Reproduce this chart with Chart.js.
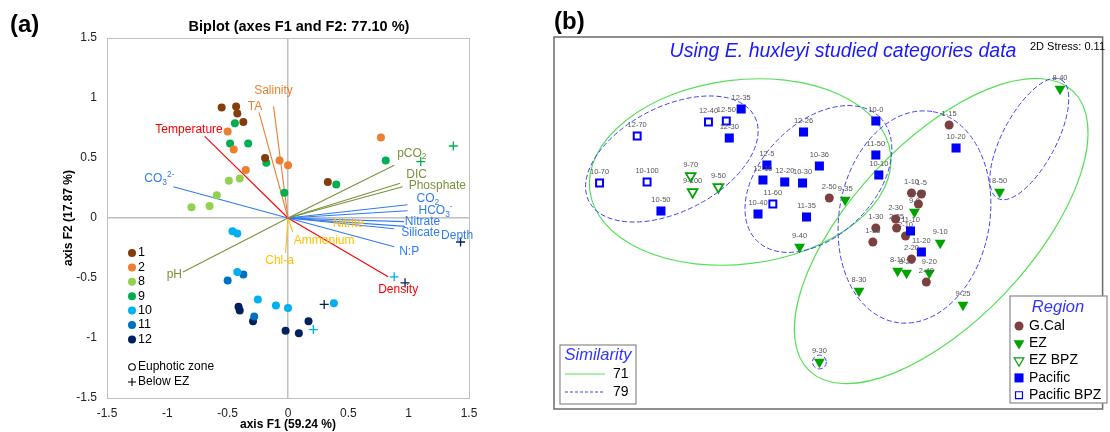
<!DOCTYPE html>
<html>
<head>
<meta charset="utf-8">
<script src="https://cdn.jsdelivr.net/npm/chart.js@4.4.1/dist/chart.umd.min.js"></script>
<style>
body { margin: 0; background: #fff; }
#wrap { position: relative; width: 1110px; height: 432px; overflow: hidden; }
canvas { position: absolute; top: 0; }
#ca { left: 0; }
#cb { left: 540px; }
</style>
</head>
<body>
<div id="wrap">
  <canvas id="ca" width="540" height="432"></canvas>
  <canvas id="cb" width="570" height="432"></canvas>
</div>
<script>
const FONT = "'Liberation Sans', Arial, sans-serif";
Chart.defaults.font.family = FONT;

// ---------- panel (a): PCA biplot data ----------
const groupNames = ['1', '2', '8', '9', '10', '11', '12'];
// euphotic zone scores [F1, F2] per group
const ez1 = [[-0.55, 0.92], [-0.43, 0.93], [-0.42, 0.87], [-0.37, 0.80], [-0.19, 0.50], [0.33, 0.30]];
const ez2 = [[-0.50, 0.72], [-0.45, 0.57], [-0.35, 0.40], [-0.07, 0.48], [0.0, 0.44], [0.77, 0.67]];
const ez8 = [[-0.80, 0.09], [-0.65, 0.10], [-0.59, 0.19], [-0.49, 0.31], [-0.40, 0.33]];
const ez9 = [[-0.44, 0.79], [-0.48, 0.62], [-0.33, 0.62], [-0.18, 0.46], [-0.03, 0.21], [0.40, 0.28], [0.81, 0.48]];
const ez10 = [[-0.46, -0.11], [-0.42, -0.13], [-0.42, -0.45], [-0.25, -0.68], [-0.10, -0.73], [0.0, -0.75], [0.38, -0.71]];
const ez11 = [[-0.50, -0.52], [-0.37, -0.47], [-0.28, -0.82]];
const ez12 = [[-0.41, -0.74], [-0.40, -0.77], [-0.29, -0.86], [-0.02, -0.94], [0.09, -0.96], [0.17, -0.86]];
// below euphotic zone scores
const bez9 = [[1.10, 0.47], [1.37, 0.60]];
const bez10 = [[0.88, -0.49], [0.21, -0.93]];
const bez12 = [[0.30, -0.72], [0.97, -0.54], [1.43, -0.20]];

// variable loadings
const varNames = ['Salinity', 'TA', 'Temperature', 'CO_{3}^{2-}', 'pCO_{2}', 'DIC', 'Phosphate', 'CO_{2}', 'HCO_{3}^{-}',
  'Nitrate', 'Silicate', 'Depth', 'N:P', 'Density', 'Nitrite', 'Ammonium', 'Chl-a', 'pH'];
const varF1 = [-0.12, -0.24, -0.69, -0.95, 0.88, 0.93, 0.95, 0.99, 0.99, 0.96, 0.88, 0.97, 0.88, 0.83, 0.37, 0.04, -0.02, -0.87];
const varF2 = [0.93, 0.88, 0.68, 0.26, 0.44, 0.29, 0.26, 0.11, 0.06, -0.03, -0.09, -0.07, -0.24, -0.49, -0.03, -0.12, -0.29, -0.45];
const varKind = ['ion', 'ion', 'phys', 'carb', 'dic', 'dic', 'dic', 'carb', 'carb', 'carb', 'carb', 'carb', 'carb', 'phys', 'bio', 'bio', 'bio', 'dic'];

// ---------- styles for panel (a) ----------
const groupColors = ['#843c0c', '#ed7d31', '#92d050', '#00b050', '#00b0f0', '#0070c0', '#002060'];
const kindColors = { ion: '#ed7d31', phys: '#ff0000', carb: '#2f7bf5', dic: '#77933c', bio: '#ffc000' };
// label placement: [dx, dy, align] in pixels from the vector tip
const vecLabelPos = [[0, -16, 'center'], [-4, -6, 'center'], [18, -7, 'right'], [-29, -8, 'left'], [3, -12, 'left'],
  [6, -9, 'left'], [6, -1, 'left'], [9, -6, 'left'], [11, 0, 'left'], [1, 0, 'left'], [7, 4, 'left'], [36, 9, 'left'],
  [5, 5, 'left'], [10, 13, 'center'], [0, 2, 'left'], [1, 8, 'left'], [-6, 8, 'center'], [-1, 3, 'right']];

// draws text with _{sub} and ^{sup} parts
function drawRich(ctx, str, x, y, align, size, color) {
  const parts = [];
  const re = /([_^])\{([^}]*)\}/g;
  let last = 0, m;
  while ((m = re.exec(str))) {
    if (m.index > last) parts.push({ t: str.slice(last, m.index), k: '' });
    parts.push({ t: m[2], k: m[1] });
    last = re.lastIndex;
  }
  if (last < str.length) parts.push({ t: str.slice(last), k: '' });
  const small = size * 0.7;
  let w = 0;
  parts.forEach(p => {
    ctx.font = (p.k ? small : size) + 'px ' + FONT;
    p.w = ctx.measureText(p.t).width;
    w += p.w;
  });
  let cx = align === 'center' ? x - w / 2 : align === 'right' ? x - w : x;
  ctx.textAlign = 'left';
  ctx.textBaseline = 'middle';
  ctx.fillStyle = color;
  parts.forEach(p => {
    ctx.font = (p.k ? small : size) + 'px ' + FONT;
    const dy = p.k === '_' ? size * 0.32 : p.k === '^' ? -size * 0.35 : 0;
    ctx.fillText(p.t, cx, y + dy);
    cx += p.w;
  });
}

const toXY = arr => arr.map(p => ({ x: p[0], y: p[1] }));
const ezSets = [ez1, ez2, ez8, ez9, ez10, ez11, ez12];
const bezSets = { '9': bez9, '10': bez10, '12': bez12 };

const dsA = [];
groupNames.forEach((g, i) => {
  dsA.push({ data: toXY(ezSets[i]), backgroundColor: groupColors[i], borderWidth: 0, pointRadius: 4 });
  if (bezSets[g]) {
    dsA.push({ data: toXY(bezSets[g]), pointStyle: 'cross', borderColor: groupColors[i], borderWidth: 1.3, pointRadius: 4.5 });
  }
});
varNames.forEach((n, i) => {
  dsA.push({ data: [{ x: 0, y: 0 }, { x: varF1[i], y: varF2[i] }], showLine: true, pointRadius: 0,
    borderColor: kindColors[varKind[i]], borderWidth: 1.1 });
});

const zeroGrid = c => (Math.abs(c.tick.value) < 1e-9 ? '#c0c0c0' : 'rgba(0,0,0,0)');
const plainTick = v => String(Math.round(v * 10) / 10);

const biplotDecor = {
  id: 'biplotDecor',
  afterDraw(chart) {
    const { ctx, chartArea: a, scales } = chart;
    ctx.save();
    ctx.strokeStyle = '#c0c0c0';
    ctx.lineWidth = 1;
    ctx.strokeRect(a.left + 0.5, a.top + 0.5, a.right - a.left, a.bottom - a.top);
    // vector labels
    varNames.forEach((n, i) => {
      const px = scales.x.getPixelForValue(varF1[i]);
      const py = scales.y.getPixelForValue(varF2[i]);
      const p = vecLabelPos[i];
      drawRich(ctx, n, px + p[0], py + p[1], p[2], 12, kindColors[varKind[i]]);
    });
    // title and panel letter
    ctx.fillStyle = '#000';
    ctx.textAlign = 'center';
    ctx.textBaseline = 'middle';
    ctx.font = 'bold 14.5px ' + FONT;
    ctx.fillText('Biplot (axes F1 and F2: 77.10 %)', 299, 27);
    ctx.textAlign = 'left';
    ctx.font = 'bold 24px ' + FONT;
    ctx.fillText('(a)', 10, 25);
    // legend
    ctx.font = '12.5px ' + FONT;
    groupNames.forEach((g, i) => {
      const y = 253 + i * 14.4;
      ctx.fillStyle = groupColors[i];
      ctx.beginPath();
      ctx.arc(132, y, 4, 0, Math.PI * 2);
      ctx.fill();
      ctx.fillStyle = '#000';
      ctx.fillText(g, 138, y);
    });
    ctx.font = '12px ' + FONT;
    ctx.strokeStyle = '#000';
    ctx.lineWidth = 1.1;
    ctx.beginPath();
    ctx.arc(132, 367, 3.3, 0, Math.PI * 2);
    ctx.stroke();
    ctx.beginPath();
    ctx.moveTo(128, 382); ctx.lineTo(136, 382);
    ctx.moveTo(132, 378); ctx.lineTo(132, 386);
    ctx.stroke();
    ctx.fillText('Euphotic zone', 138, 367);
    ctx.fillText('Below EZ', 138, 382);
    ctx.restore();
  }
};

new Chart(document.getElementById('ca'), {
  type: 'scatter',
  data: { datasets: dsA },
  options: {
    responsive: false,
    animation: false,
    layout: { padding: { left: 61, right: 71, top: 38, bottom: 0 } },
    plugins: { legend: { display: false }, tooltip: { enabled: false } },
    scales: {
      x: {
        min: -1.5, max: 1.5,
        ticks: { stepSize: 0.5, padding: 8, color: '#222', font: { size: 12 }, callback: plainTick },
        grid: { color: zeroGrid, lineWidth: 1.5, drawTicks: false },
        border: { display: false },
        title: { display: true, text: 'axis F1 (59.24 %)', color: '#000', font: { size: 12, weight: 'bold' }, padding: { top: 0, bottom: 0 } },
        afterFit: s => { s.height = 34; }
      },
      y: {
        min: -1.5, max: 1.5,
        ticks: { stepSize: 0.5, padding: 10, color: '#222', font: { size: 12 }, callback: plainTick },
        grid: { color: zeroGrid, lineWidth: 1.5, drawTicks: false },
        border: { display: false },
        title: { display: true, text: 'axis F2 (17.87 %)', color: '#000', font: { size: 12, weight: 'bold' }, padding: { top: 0, bottom: 0 } },
        afterFit: s => { s.width = 46; }
      }
    }
  },
  plugins: [biplotDecor]
});

// ---------- panel (b): NMDS data ----------
const gcalNames = ['2-50', '1-15', '1-10', '1-5', '1-20', '2-30', '2-35', '2-10', '1-30', '1-35', '2-20', '2-40'];
const gcalX = [0.02, 1.23, 0.85, 0.95, 0.92, 0.69, 0.70, 0.79, 0.49, 0.46, 0.85, 1.00];
const gcalY = [0.27, 1.00, 0.32, 0.31, 0.21, 0.06, -0.03, -0.11, -0.03, -0.17, -0.34, -0.57];

const ezNames = ['8-40', '8-50', '9-35', '9-0', '9-10', '8-10', '8-20', '9-20', '8-30', '9-25', '9-40', '9-30'];
const ezX = [2.35, 1.74, 0.18, 0.88, 1.14, 0.71, 0.80, 1.03, 0.32, 1.37, -0.28, -0.08];
const ezY = [1.36, 0.33, 0.25, 0.13, -0.18, -0.46, -0.48, -0.48, -0.66, -0.80, -0.22, -1.37];

const ezbNames = ['9-70', '9-100', '9-50'];
const ezbX = [-1.38, -1.36, -1.10];
const ezbY = [0.49, 0.33, 0.38];

const pacNames = ['12-35', '12-30', '10-50', '12-26', '12-5', '12-10', '12-20', '10-30', '10-36', '10-40', '11-35',
  '10-0', '10-20', '11-50', '10-10', '11-10', '11-20'];
const pacX = [-0.87, -0.99, -1.68, -0.24, -0.61, -0.65, -0.43, -0.25, -0.08, -0.70, -0.21, 0.49, 1.30, 0.49, 0.52, 0.84, 0.95];
const pacY = [1.16, 0.87, 0.14, 0.93, 0.60, 0.45, 0.43, 0.42, 0.59, 0.11, 0.08, 1.04, 0.77, 0.70, 0.50, -0.06, -0.27];

const pacbNames = ['12-40', '12-50', '12-70', '10-70', '10-100', '11-60'];
const pacbX = [-1.20, -1.02, -1.92, -2.30, -1.82, -0.55];
const pacbY = [1.03, 1.04, 0.89, 0.42, 0.43, 0.21];

// similarity clusters: [centre x, centre y, semi-axis a, semi-axis b, angle deg]
const sim71 = [[-0.88, 0.53, 1.53, 0.93, 7], [1.15, -0.06, 1.94, 0.90, 46.7]];
const sim79 = [[-1.57, 0.66, 0.94, 0.53, 27], [-0.09, 0.46, 0.88, 0.57, 45], [0.88, 0.08, 1.08, 0.76, 80],
  [2.04, 0.86, 0.68, 0.27, 62], [-0.08, -1.37, 0.07, 0.07, 0]];

const regionNames = ['G.Cal', 'EZ', 'EZ BPZ', 'Pacific', 'Pacific BPZ'];

// ---------- styles for panel (b) ----------
const COL_GCAL = '#7d3f3f', COL_EZ = '#00a300', COL_PAC = '#0000ff';
const C71 = '#55e055', C79 = '#4040ff';
const regionStyle = [
  { pointStyle: 'circle', radius: 4.5, rotation: 0, borderWidth: 0, fill: COL_GCAL, stroke: COL_GCAL },
  { pointStyle: 'triangle', radius: 6.3, rotation: 180, borderWidth: 0, fill: COL_EZ, stroke: COL_EZ },
  { pointStyle: 'triangle', radius: 5.6, rotation: 180, borderWidth: 1.8, fill: '#fff', stroke: COL_EZ },
  { pointStyle: 'rect', radius: 6.4, rotation: 0, borderWidth: 0, fill: COL_PAC, stroke: COL_PAC },
  { pointStyle: 'rect', radius: 4.9, rotation: 0, borderWidth: 2, fill: '#fff', stroke: COL_PAC }
];

const zipXY = (xs, ys) => xs.map((x, i) => ({ x: x, y: ys[i] }));
const regionData = [[gcalNames, gcalX, gcalY], [ezNames, ezX, ezY], [ezbNames, ezbX, ezbY], [pacNames, pacX, pacY], [pacbNames, pacbX, pacbY]];

const dsB = regionData.map((r, i) => ({
  label: regionNames[i],
  names: r[0],
  data: zipXY(r[1], r[2]),
  pointStyle: regionStyle[i].pointStyle,
  rotation: regionStyle[i].rotation,
  pointRadius: regionStyle[i].radius,
  borderWidth: regionStyle[i].borderWidth,
  backgroundColor: regionStyle[i].fill,
  borderColor: regionStyle[i].stroke,
  clip: false
})).reverse();

function drawEllipse(ctx, xs, ys, e) {
  const k = Math.abs(xs.getPixelForValue(1) - xs.getPixelForValue(0));
  ctx.beginPath();
  ctx.ellipse(xs.getPixelForValue(e[0]), ys.getPixelForValue(e[1]), e[2] * k, e[3] * k, -e[4] * Math.PI / 180, 0, Math.PI * 2);
  ctx.stroke();
}

const nmdsDecor = {
  id: 'nmdsDecor',
  beforeDatasetsDraw(chart) {
    const { ctx, scales } = chart;
    ctx.save();
    ctx.lineWidth = 1.2;
    ctx.strokeStyle = C71;
    sim71.forEach(e => drawEllipse(ctx, scales.x, scales.y, e));
    ctx.strokeStyle = C79;
    ctx.lineWidth = 1;
    ctx.setLineDash([5, 2.5]);
    sim79.forEach(e => drawEllipse(ctx, scales.x, scales.y, e));
    ctx.restore();
  },
  afterDatasetsDraw(chart) {
    const { ctx, chartArea: a } = chart;
    ctx.save();
    // sample labels
    ctx.font = '7.5px ' + FONT;
    ctx.fillStyle = '#555';
    ctx.textAlign = 'center';
    ctx.textBaseline = 'middle';
    chart.data.datasets.forEach((ds, di) => {
      chart.getDatasetMeta(di).data.forEach((el, i) => {
        ctx.fillText(ds.names[i], el.x, el.y - 11.5);
      });
    });
    // frame
    ctx.strokeStyle = '#6b6b6b';
    ctx.lineWidth = 1.5;
    ctx.strokeRect(a.left, a.top, a.right - a.left, a.bottom - a.top);
    // titles
    ctx.fillStyle = '#1a1aff';
    ctx.font = 'italic 19.5px ' + FONT;
    ctx.fillText('Using E. huxleyi studied categories data', 303, 52);
    ctx.fillStyle = '#000';
    ctx.font = '11px ' + FONT;
    ctx.textAlign = 'right';
    ctx.fillText('2D Stress: 0.11', 565, 47);
    ctx.textAlign = 'left';
    ctx.font = 'bold 24px ' + FONT;
    ctx.fillText('(b)', 14, 22);

    // similarity legend
    ctx.fillStyle = '#fff';
    ctx.strokeStyle = '#8a8a8a';
    ctx.lineWidth = 1.2;
    ctx.fillRect(20, 345, 76, 59);
    ctx.strokeRect(20, 345, 76, 59);
    ctx.fillStyle = '#3333ff';
    ctx.textAlign = 'center';
    ctx.font = 'italic 16.5px ' + FONT;
    ctx.fillText('Similarity', 58, 355);
    ctx.strokeStyle = C71;
    ctx.lineWidth = 1.2;
    ctx.beginPath(); ctx.moveTo(25, 374); ctx.lineTo(65, 374); ctx.stroke();
    ctx.strokeStyle = C79;
    ctx.lineWidth = 1;
    ctx.setLineDash([3, 2]);
    ctx.beginPath(); ctx.moveTo(25, 392); ctx.lineTo(65, 392); ctx.stroke();
    ctx.setLineDash([]);
    ctx.fillStyle = '#000';
    ctx.textAlign = 'left';
    ctx.font = '14px ' + FONT;
    ctx.fillText('71', 73, 374);
    ctx.fillText('79', 73, 392);

    // region legend
    ctx.fillStyle = '#fff';
    ctx.strokeStyle = '#8a8a8a';
    ctx.lineWidth = 1.2;
    ctx.fillRect(470, 296, 97, 107);
    ctx.strokeRect(470, 296, 97, 107);
    ctx.fillStyle = '#3333ff';
    ctx.textAlign = 'center';
    ctx.font = 'italic 16.5px ' + FONT;
    ctx.fillText('Region', 518, 307);
    ctx.textAlign = 'left';
    ctx.font = '14px ' + FONT;
    regionNames.forEach((n, i) => {
      const y = 326 + i * 17.3;
      const st = regionStyle[i];
      ctx.fillStyle = st.fill;
      ctx.strokeStyle = st.stroke;
      Chart.helpers.drawPoint(ctx, { pointStyle: st.pointStyle, rotation: st.rotation, radius: st.radius, borderWidth: st.borderWidth }, 479, y);
      ctx.fillStyle = '#000';
      ctx.fillText(n, 489, y);
    });
    ctx.restore();
  }
};

new Chart(document.getElementById('cb'), {
  type: 'scatter',
  data: { datasets: dsB },
  options: {
    responsive: false,
    animation: false,
    layout: { padding: { left: 14, right: 2, top: 37, bottom: 23 } },
    plugins: { legend: { display: false }, tooltip: { enabled: false } },
    scales: {
      x: { display: false, min: -2.76, max: 2.78 },
      y: { display: false, min: -1.84, max: 1.88 }
    }
  },
  plugins: [nmdsDecor]
});
</script>
</body>
</html>
